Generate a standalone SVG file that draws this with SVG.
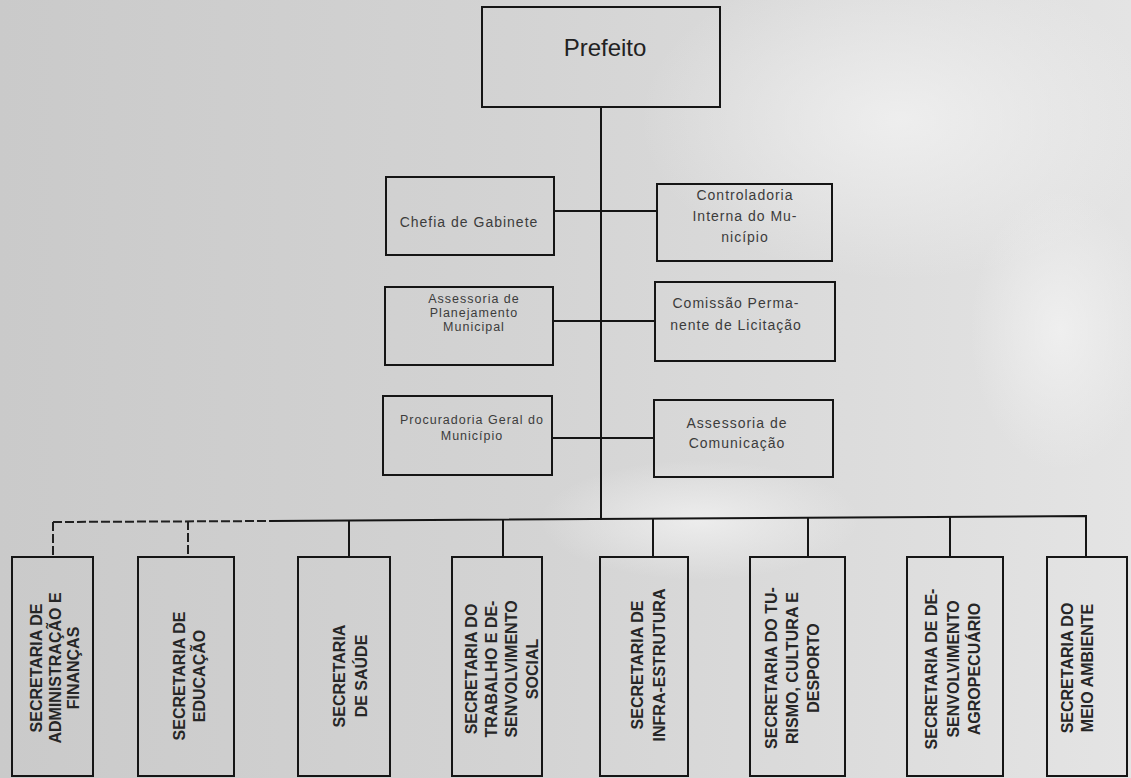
<svg xmlns="http://www.w3.org/2000/svg" width="1131" height="778" viewBox="0 0 1131 778">
<defs>
<linearGradient id="bg" x1="0" y1="0" x2="1" y2="0">
<stop offset="0" stop-color="#cacaca"/>
<stop offset="0.45" stop-color="#d3d3d3"/>
<stop offset="0.75" stop-color="#dcdcdc"/>
<stop offset="1" stop-color="#e4e4e4"/>
</linearGradient>
<radialGradient id="hl" cx="0.5" cy="0.5" r="0.5">
<stop offset="0" stop-color="#f2f2f2" stop-opacity="0.8"/>
<stop offset="1" stop-color="#f2f2f2" stop-opacity="0"/>
</radialGradient>
<style>
.box{fill:none;stroke:#151515;stroke-width:2}
.ln{fill:none;stroke:#151515;stroke-width:2}
.dash{fill:none;stroke:#202020;stroke-width:2;stroke-dasharray:9 3}
.t{font-family:"Liberation Sans",Arial,sans-serif;font-size:14px;letter-spacing:1px;fill:#3c3c3c;text-anchor:middle}
.ts{font-size:12.5px}
.v{font-family:"Liberation Sans",Arial,sans-serif;font-size:16px;font-weight:bold;fill:#262626;text-anchor:middle}
.p{font-family:"Liberation Sans",Arial,sans-serif;font-size:24px;fill:#222;text-anchor:middle}
</style>
</defs>
<rect x="0" y="0" width="1131" height="778" fill="url(#bg)"/>
<ellipse cx="900" cy="120" rx="260" ry="160" fill="url(#hl)"/>
<ellipse cx="1060" cy="330" rx="90" ry="140" fill="url(#hl)"/>
<ellipse cx="700" cy="520" rx="160" ry="60" fill="url(#hl)"/>

<g id="connectors">
<path class="ln" d="M601 107 V520"/>
<path class="ln" d="M554 211 H657"/>
<path class="ln" d="M553 321 H655"/>
<path class="ln" d="M552 438 H654"/>
<path class="dash" d="M53 522 L270 521"/>
<path class="ln" d="M270 521 L1086 516 V557"/>
<path class="dash" d="M53 522 V557"/>
<path class="dash" d="M188 521 V557"/>
<path class="ln" d="M349 520 V557"/>
<path class="ln" d="M503 519 V557"/>
<path class="ln" d="M653 518 V557"/>
<path class="ln" d="M808 518 V557"/>
<path class="ln" d="M950 517 V557"/>
</g>

<g id="prefeito">
<rect class="box" x="482" y="7" width="238" height="100"/>
<text class="p" x="605" y="56">Prefeito</text>
</g>

<g id="chefia-gabinete">
<rect class="box" x="386" y="177" width="168" height="78"/>
<text class="t" x="469" y="227">Chefia de Gabinete</text>
</g>

<g id="controladoria">
<rect class="box" x="657" y="184" width="175" height="77"/>
<text class="t"><tspan x="745" y="200">Controladoria</tspan><tspan x="745" y="221">Interna do Mu-</tspan><tspan x="745" y="242">nicípio</tspan></text>
</g>

<g id="assessoria-planejamento">
<rect class="box" x="385" y="287" width="168" height="78"/>
<text class="t ts"><tspan x="474" y="303">Assessoria de</tspan><tspan x="474" y="317">Planejamento</tspan><tspan x="474" y="331">Municipal</tspan></text>
</g>

<g id="comissao-licitacao">
<rect class="box" x="655" y="282" width="180" height="79"/>
<text class="t"><tspan x="736" y="308">Comissão Perma-</tspan><tspan x="736" y="330">nente de Licitação</tspan></text>
</g>

<g id="procuradoria">
<rect class="box" x="383" y="396" width="169" height="79"/>
<text class="t ts"><tspan x="472" y="424">Procuradoria Geral do</tspan><tspan x="472" y="440">Município</tspan></text>
</g>

<g id="assessoria-comunicacao">
<rect class="box" x="654" y="400" width="179" height="77"/>
<text class="t"><tspan x="737" y="428">Assessoria de</tspan><tspan x="737" y="448">Comunicação</tspan></text>
</g>

<g id="sec-administracao">
<rect class="box" x="12" y="557" width="81" height="219"/>
<text class="v" transform="translate(0,668) rotate(-90)"><tspan x="0" y="42">SECRETARIA DE</tspan><tspan x="0" y="61">ADMINISTRAÇÃO E</tspan><tspan x="0" y="79">FINANÇAS</tspan></text>
</g>

<g id="sec-educacao">
<rect class="box" x="138" y="557" width="96" height="219"/>
<text class="v" transform="translate(0,676) rotate(-90)"><tspan x="0" y="185">SECRETARIA DE</tspan><tspan x="0" y="205">EDUCAÇÃO</tspan></text>
</g>

<g id="sec-saude">
<rect class="box" x="298" y="557" width="92" height="219"/>
<text class="v" transform="translate(0,676) rotate(-90)"><tspan x="0" y="345">SECRETARIA</tspan><tspan x="0" y="367">DE SAÚDE</tspan></text>
</g>

<g id="sec-trabalho">
<rect class="box" x="452" y="557" width="90" height="219"/>
<text class="v" transform="translate(0,669) rotate(-90)"><tspan x="0" y="477">SECRETARIA DO</tspan><tspan x="0" y="497">TRABALHO E DE-</tspan><tspan x="0" y="517">SENVOLVIMENTO</tspan><tspan x="0" y="538">SOCIAL</tspan></text>
</g>

<g id="sec-infraestrutura">
<rect class="box" x="600" y="557" width="88" height="219"/>
<text class="v" transform="translate(0,665) rotate(-90)"><tspan x="0" y="643">SECRETARIA DE</tspan><tspan x="0" y="665">INFRA-ESTRUTURA</tspan></text>
</g>

<g id="sec-turismo">
<rect class="box" x="750" y="557" width="95" height="219"/>
<text class="v" transform="translate(0,668) rotate(-90)"><tspan x="0" y="777">SECRETARIA DO TU-</tspan><tspan x="0" y="798">RISMO, CULTURA E</tspan><tspan x="0" y="819">DESPORTO</tspan></text>
</g>

<g id="sec-agropecuario">
<rect class="box" x="907" y="557" width="96" height="219"/>
<text class="v" transform="translate(0,669) rotate(-90)"><tspan x="0" y="937">SECRETARIA DE DE-</tspan><tspan x="0" y="959">SENVOLVIMENTO</tspan><tspan x="0" y="980">AGROPECUÁRIO</tspan></text>
</g>

<g id="sec-meio-ambiente">
<rect class="box" x="1047" y="557" width="80" height="219"/>
<text class="v" transform="translate(0,668) rotate(-90)"><tspan x="0" y="1073">SECRETARIA DO</tspan><tspan x="0" y="1093">MEIO AMBIENTE</tspan></text>
</g>
</svg>
